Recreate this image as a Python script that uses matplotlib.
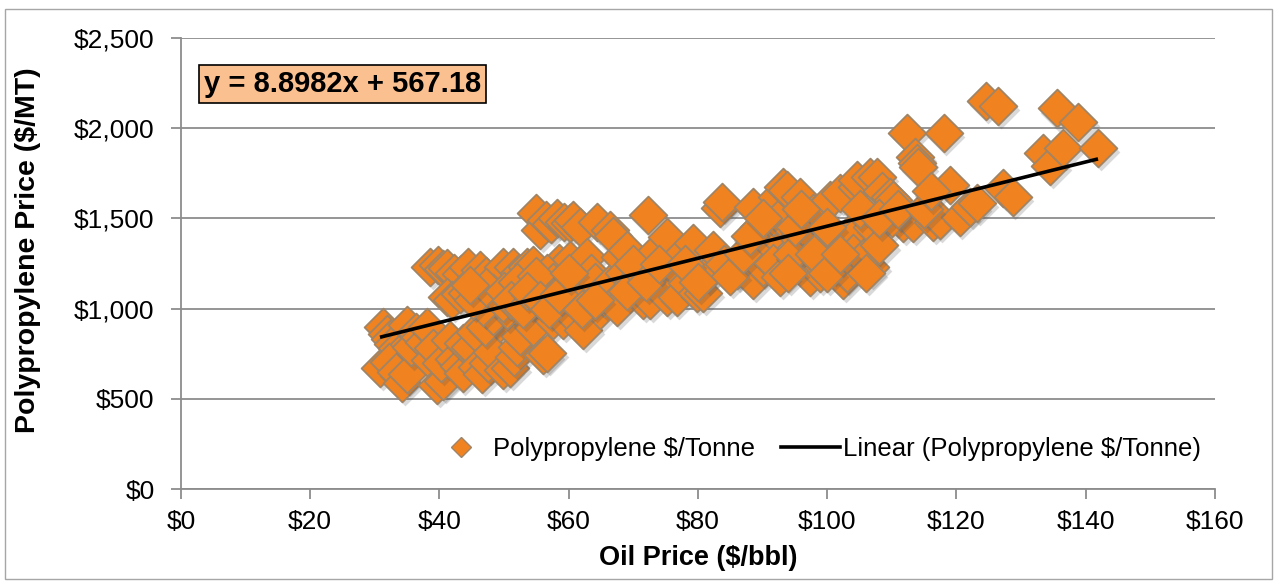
import numpy as np
import matplotlib
matplotlib.use("Agg")
import matplotlib.pyplot as plt
import matplotlib.transforms as mtransforms
from matplotlib.lines import Line2D
from matplotlib.patches import Rectangle
from matplotlib.ticker import FuncFormatter

plt.rcParams['font.family'] = ['Liberation Sans', 'DejaVu Sans']

# oil price ($/bbl), polypropylene price ($/MT)
oil = [
    # low-left cloud
    30.8, 31.3, 31.9, 32.3, 32.8, 33.4, 34.0, 32.2, 33.2, 34.2, 35.0, 35.0, 35.6, 36.3, 37.0, 37.6,
    38.0, 38.5, 39.0, 39.6, 40.6, 40.3, 41.6, 42.2, 43.0, 43.6, 43.6, 44.7, 45.5, 45.8, 46.6, 47.5,
    48.2, 49.4, 49.8, 50.9, 51.6, 52.0, 52.5, 53.5, 54.5, 56.0, 56.6, 57.6, 59.1, 59.7, 62.2, 64.8,
    47.0, 48.3, 50.5, 46.7,
    # upper-left group
    38.5, 39.8, 40.6, 41.2, 42.3, 43.4, 44.4, 45.8, 46.3, 47.2, 48.1, 49.8, 51.4, 52.3, 53.5, 54.5,
    41.2, 42.0, 43.2, 44.3, 45.2, 48.3, 49.8, 47.2, 44.8,
    50.0, 52.0, 54.0, 56.0, 51.0, 53.0,
    # middle
    55.0, 55.6, 56.5, 57.3, 58.2, 59.2, 60.2, 60.7, 61.7, 64.4, 66.4, 66.8, 72.2, 58.5, 59.1, 59.7,
    60.2, 61.3, 62.8, 62.8, 63.5, 64.0, 65.5, 66.4, 67.5, 67.5, 67.9, 68.5, 69.0, 70.0, 71.5, 71.5,
    72.6, 73.0, 74.1, 75.2, 75.2, 76.7, 76.7, 77.5, 78.3, 79.2, 79.8, 80.8, 81.5, 82.3, 83.4, 83.7,
    86.0, 86.0, 88.5, 88.5, 89.5, 90.0, 90.0, 91.6, 56.6, 57.5, 55.0, 53.5, 55.5, 57.0, 58.5,
    60.0, 62.0, 64.0, 69.0, 70.0, 72.0, 74.0, 78.0, 80.0, 84.0, 85.0, 87.0, 88.0,
    # right-middle
    91.6, 92.2, 92.7, 93.2, 93.8, 95.8, 95.8, 96.2, 97.3, 97.8, 98.4, 98.9, 99.3, 100.0, 100.4, 102.0,
    102.4, 103.5, 104.0, 104.0, 104.6, 104.6, 106.6, 106.6, 107.7, 108.5, 109.7, 110.2, 111.7, 112.3,
    113.3, 113.6, 113.9, 114.0, 116.4, 117.4, 118.0, 119.0, 120.5, 122.1, 91.6, 92.7, 94.5, 101.0,
    103.0, 105.5, 107.0, 108.0, 110.0,
    90.0, 95.0, 96.0, 100.0, 98.0, 105.0, 108.0, 111.0, 115.0, 116.0, 94.0, 100.0, 106.0, 102.0,
    # far right
    123.2, 124.5, 126.4, 127.2, 128.7, 133.4, 134.5, 135.5, 136.5, 138.8, 141.9,
]
pp = [
    670, 898, 860, 830, 805, 780, 760, 705, 650, 590, 640, 909, 785, 870, 840, 815,
    898, 715, 780, 576, 600, 700, 826, 720, 680, 643, 809, 787, 870, 676, 640, 700,
    760, 920, 660, 671, 730, 787, 850, 953, 900, 743, 754, 937, 937, 992, 881, 992,
    900, 960, 990, 1009,
    1231, 1242, 1220, 1225, 1200, 1190, 1230, 1175, 1214, 1180, 1150, 1231, 1231, 1200, 1231, 1242,
    1064, 1048, 1080, 1086, 1050, 1086, 1031, 1120, 1130,
    1100, 1150, 1050, 1100, 1050, 1000,
    1530, 1436, 1490, 1470, 1502, 1480, 1474, 1491, 1452, 1480, 1436, 1400, 1519, 1253, 1231, 1142,
    1269, 1064, 1286, 1103, 1200, 1150, 1060, 1142, 1048, 1009, 1286, 1200, 1325, 1150, 1231, 1048,
    1048, 1300, 1159, 1397, 1064, 1214, 1064, 1300, 1142, 1364, 1086, 1086, 1200, 1325, 1557, 1591,
    1231, 1214, 1563, 1159, 1450, 1231, 1308, 1419, 1200, 1150, 1180, 1100, 1050, 1000, 1080,
    1200, 1000, 1050, 1100, 1250, 1150, 1250, 1250, 1150, 1250, 1180, 1300, 1400,
    1508, 1619, 1508, 1674, 1657, 1619, 1380, 1253, 1175, 1530, 1530, 1197, 1231, 1325, 1602, 1641,
    1159, 1419, 1397, 1308, 1674, 1713, 1729, 1231, 1729, 1650, 1619, 1602, 1474, 1973,
    1474, 1840, 1807, 1785, 1480, 1491, 1973, 1685, 1508, 1563, 1253, 1175, 1300, 1250,
    1200, 1280, 1450, 1350, 1500,
    1500, 1450, 1550, 1450, 1300, 1550, 1500, 1550, 1550, 1650, 1200, 1200, 1200, 1300,
    1585, 2150, 2125, 1668, 1619, 1862, 1790, 2110, 1890, 2035, 1890,
]

slope = 8.8982
intercept = 567.18
series_label = "Polypropylene $/Tonne"
trend_label = "Linear (Polypropylene $/Tonne)"

x_ticks = [0, 20, 40, 60, 80, 100, 120, 140, 160]
y_ticks = [0, 500, 1000, 1500, 2000, 2500]

orange = '#F0821F'
edge = '#A08466'
grid_grey = '#8C8C8C'

fig = plt.figure(figsize=(12.76, 5.81), dpi=100)
ax = fig.add_axes([0.1418, 0.1583, 0.8104, 0.7763])

# grey frame around the whole chart area
fig.patches.append(Rectangle((0.004, 0.003), 0.993, 0.982, transform=fig.transFigure,
                             fill=False, edgecolor='#A6A6A6', linewidth=1.0))

shadow = ax.transData + mtransforms.ScaledTranslation(2 / 72, -3 / 72, fig.dpi_scale_trans)
z = 3
for xi, yi in zip(oil, pp):
    ax.scatter([xi], [yi], s=370, marker='D', color='#555555', alpha=0.22,
               linewidths=0, transform=shadow, zorder=z)
    ax.scatter([xi], [yi], s=370, marker='D', facecolor=orange, edgecolor=edge,
               linewidths=1.3, zorder=z + 0.5)
    z += 1

xs = np.array([min(oil), max(oil)])
ax.plot(xs, slope * xs + intercept, color='black', linewidth=2.6, zorder=z + 1,
        solid_capstyle='butt')

ax.set_xlim(0, 160)
ax.set_ylim(0, 2500)
ax.set_xticks(x_ticks)
ax.set_yticks(y_ticks)
ax.xaxis.set_major_formatter(FuncFormatter(lambda v, p: "${:,.0f}".format(v)))
ax.yaxis.set_major_formatter(FuncFormatter(lambda v, p: "${:,.0f}".format(v)))
ax.tick_params(axis='both', direction='out', length=7, width=1.3, color=grid_grey,
               labelsize=19)
ax.tick_params(axis='y', pad=12)
ax.tick_params(axis='x', pad=8)

ax.grid(axis='y', color=grid_grey, linewidth=1.3)
ax.set_axisbelow(True)
for side in ['top', 'right']:
    ax.spines[side].set_visible(False)
for side in ['left', 'bottom']:
    ax.spines[side].set_color(grid_grey)
    ax.spines[side].set_linewidth(1.3)

ax.set_xlabel("Oil Price ($/bbl)", fontsize=19.5, fontweight='bold', labelpad=8)
ax.set_ylabel("Polypropylene Price ($/MT)", fontsize=20.5, fontweight='bold')
ax.yaxis.set_label_coords(-0.135, 0.53)

ax.text(0.022, 0.898, "y = 8.8982x + 567.18", transform=ax.transAxes, fontsize=21,
        fontweight='bold', va='center', ha='left', zorder=z + 5,
        bbox=dict(boxstyle='square,pad=0.17', facecolor='#FAC090', edgecolor='black', linewidth=1.2))

handles = [
    Line2D([], [], marker='D', linestyle='none', markersize=10, markerfacecolor=orange,
           markeredgecolor=edge),
    Line2D([], [], color='black', linewidth=2.6),
]
leg = ax.legend(handles, [series_label, trend_label], loc='lower right',
                bbox_to_anchor=(0.996, 0.04), ncol=2, frameon=False, fontsize=18.5,
                handlelength=2.3, handletextpad=0.1, columnspacing=1.0,
                borderaxespad=0.0)
leg.set_zorder(z + 5)

fig.savefig("out.png", dpi=100)
